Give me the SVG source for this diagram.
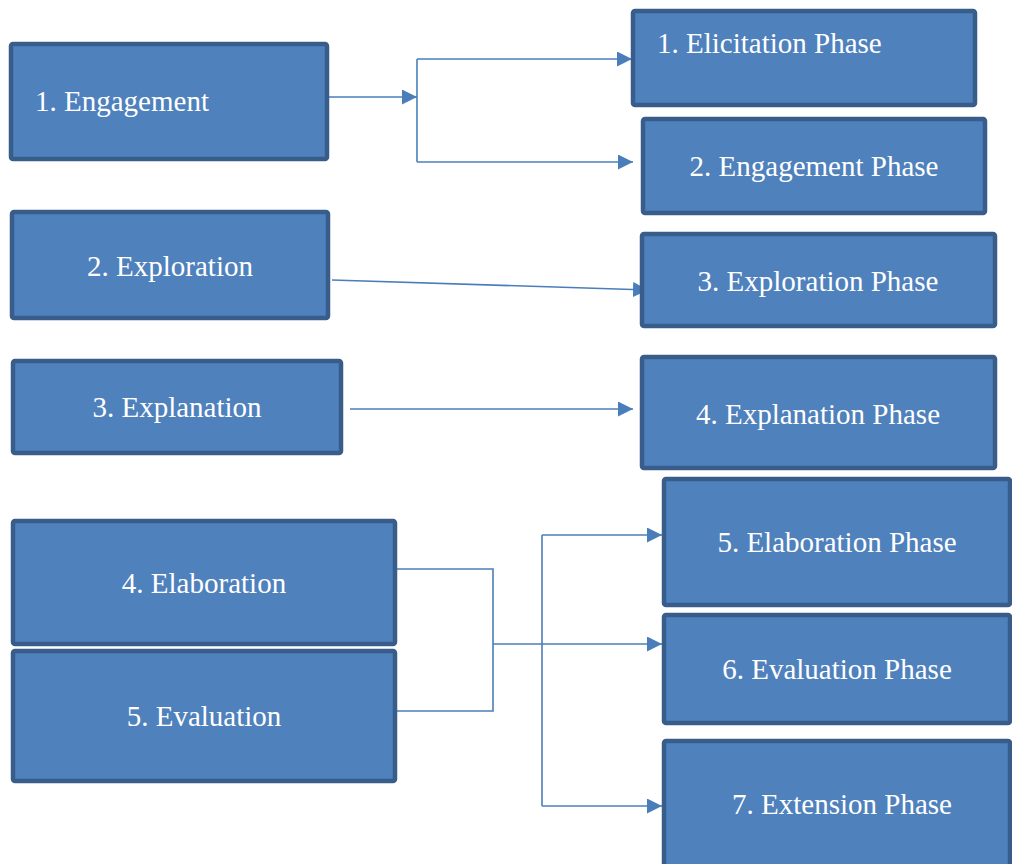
<svg xmlns="http://www.w3.org/2000/svg" width="1012" height="864" viewBox="0 0 1012 864">
<style>
.box{fill:#4f81bd;stroke:#385d8a;stroke-width:4.5}
.lbl{font-family:"Liberation Serif","Times New Roman",serif;font-size:29px;fill:#ffffff}
.c{text-anchor:middle}
.conn{fill:none;stroke:#4a7ebb;stroke-width:1.6}
</style>
<defs>
<marker id="arr" markerUnits="userSpaceOnUse" markerWidth="17" markerHeight="17" refX="15" refY="7.5" orient="auto">
<path d="M0,0 L15,7.5 L0,15 Z" fill="#4a7ebb"/>
</marker>
</defs>
<rect width="1012" height="864" fill="#ffffff"/>
<g id="connectors">
<path class="conn" d="M329,97 L417,97" marker-end="url(#arr)"/>
<path class="conn" d="M417,59 L417,162"/>
<path class="conn" d="M417,59 L632,59" marker-end="url(#arr)"/>
<path class="conn" d="M417,162 L633,162" marker-end="url(#arr)"/>
<path class="conn" d="M332,280 L648,290" marker-end="url(#arr)"/>
<path class="conn" d="M350,409 L633,409" marker-end="url(#arr)"/>
<path class="conn" d="M397,569 L493,569 L493,711 L397,711"/>
<path class="conn" d="M493,644 L662,644" marker-end="url(#arr)"/>
<path class="conn" d="M542,535 L542,806"/>
<path class="conn" d="M542,535 L662,535" marker-end="url(#arr)"/>
<path class="conn" d="M542,806 L662,806" marker-end="url(#arr)"/>
</g>
<g id="engagement"><rect class="box" x="11" y="44" width="316" height="115" rx="2"/><text class="lbl" x="35" y="111">1. Engagement</text></g>
<g id="exploration"><rect class="box" x="12" y="212" width="316" height="106" rx="2"/><text class="lbl c" x="170" y="276">2. Exploration</text></g>
<g id="explanation"><rect class="box" x="13" y="361" width="328" height="92" rx="2"/><text class="lbl c" x="177" y="417">3. Explanation</text></g>
<g id="elaboration"><rect class="box" x="13" y="521" width="382" height="123" rx="2"/><text class="lbl c" x="204" y="593">4. Elaboration</text></g>
<g id="evaluation"><rect class="box" x="13" y="651" width="382" height="130" rx="2"/><text class="lbl c" x="204" y="726">5. Evaluation</text></g>
<g id="elicitation-phase"><rect class="box" x="633" y="11" width="342" height="94" rx="2"/><text class="lbl" x="657" y="53">1. Elicitation Phase</text></g>
<g id="engagement-phase"><rect class="box" x="643" y="119" width="342" height="94" rx="2"/><text class="lbl c" x="814" y="176">2. Engagement Phase</text></g>
<g id="exploration-phase"><rect class="box" x="642" y="234" width="353" height="92" rx="2"/><text class="lbl c" x="818" y="291">3. Exploration Phase</text></g>
<g id="explanation-phase"><rect class="box" x="642" y="357" width="353" height="111" rx="2"/><text class="lbl c" x="818" y="424">4. Explanation Phase</text></g>
<g id="elaboration-phase"><rect class="box" x="664" y="479" width="346" height="126" rx="2"/><text class="lbl c" x="837" y="552">5. Elaboration Phase</text></g>
<g id="evaluation-phase"><rect class="box" x="664" y="615" width="346" height="108" rx="2"/><text class="lbl c" x="837" y="679">6. Evaluation Phase</text></g>
<g id="extension-phase"><rect class="box" x="664" y="741" width="346" height="130" rx="2"/><text class="lbl c" x="842" y="814">7. Extension Phase</text></g>
</svg>
